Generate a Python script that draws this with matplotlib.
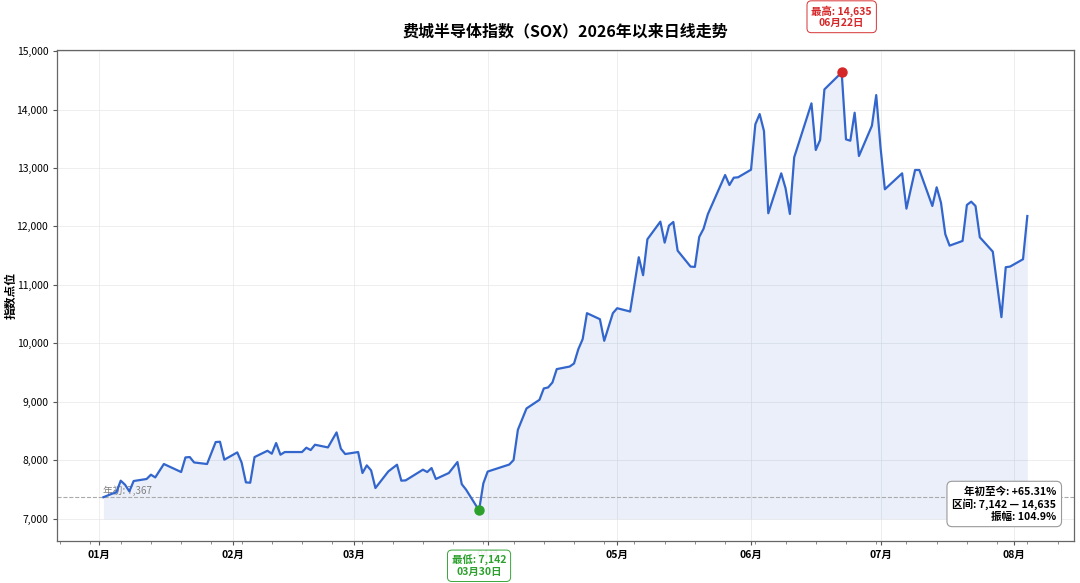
import matplotlib
matplotlib.use("Agg")
import matplotlib.pyplot as plt
import matplotlib.dates as mdates
import matplotlib.ticker as mticker
import pandas as pd

# ── 数据（读图估计的转折点）─────────────────────────────────
DATES = [
    "2026-01-02", "2026-01-04", "2026-01-05", "2026-01-06", "2026-01-07",
    "2026-01-08", "2026-01-09", "2026-01-12", "2026-01-13", "2026-01-14",
    "2026-01-16", "2026-01-20", "2026-01-21", "2026-01-22", "2026-01-23",
    "2026-01-26", "2026-01-28", "2026-01-29", "2026-01-30", "2026-02-02",
    "2026-02-03", "2026-02-04", "2026-02-05", "2026-02-06", "2026-02-09",
    "2026-02-10", "2026-02-11", "2026-02-12", "2026-02-13", "2026-02-17",
    "2026-02-18", "2026-02-19", "2026-02-20", "2026-02-23", "2026-02-25",
    "2026-02-26", "2026-02-27", "2026-03-02", "2026-03-03", "2026-03-04",
    "2026-03-05", "2026-03-06", "2026-03-09", "2026-03-11", "2026-03-12",
    "2026-03-13", "2026-03-17", "2026-03-18", "2026-03-19", "2026-03-20",
    "2026-03-23", "2026-03-25", "2026-03-26", "2026-03-27", "2026-03-30",
    "2026-03-31", "2026-04-01", "2026-04-06", "2026-04-07", "2026-04-08",
    "2026-04-10", "2026-04-13", "2026-04-14", "2026-04-15", "2026-04-16",
    "2026-04-17", "2026-04-20", "2026-04-21", "2026-04-22", "2026-04-23",
    "2026-04-24", "2026-04-27", "2026-04-28", "2026-04-30", "2026-05-01",
    "2026-05-04", "2026-05-06", "2026-05-07", "2026-05-08", "2026-05-11",
    "2026-05-12", "2026-05-13", "2026-05-14", "2026-05-15", "2026-05-18",
    "2026-05-19", "2026-05-20", "2026-05-21", "2026-05-22", "2026-05-26",
    "2026-05-27", "2026-05-28", "2026-05-29", "2026-06-01", "2026-06-02",
    "2026-06-03", "2026-06-04", "2026-06-05", "2026-06-08", "2026-06-09",
    "2026-06-10", "2026-06-11", "2026-06-15", "2026-06-16", "2026-06-17",
    "2026-06-18", "2026-06-21", "2026-06-22", "2026-06-23", "2026-06-24",
    "2026-06-25", "2026-06-26", "2026-06-29", "2026-06-30", "2026-07-01",
    "2026-07-02", "2026-07-06", "2026-07-07", "2026-07-09", "2026-07-10",
    "2026-07-13", "2026-07-14", "2026-07-15", "2026-07-16", "2026-07-17",
    "2026-07-20", "2026-07-21", "2026-07-22", "2026-07-23", "2026-07-24",
    "2026-07-27", "2026-07-29", "2026-07-30", "2026-07-31", "2026-08-03",
    "2026-08-04",
]
VALUES = [
    7367, 7427, 7450, 7650, 7581,
    7467, 7644, 7679, 7752, 7706,
    7935, 7798, 8048, 8054, 7962,
    7935, 8311, 8316, 8009, 8134,
    7962, 7621, 7615, 8054, 8162,
    8111, 8294, 8094, 8140, 8140,
    8214, 8174, 8265, 8219, 8476,
    8197, 8106, 8140, 7781, 7912,
    7826, 7524, 7809, 7923, 7650,
    7655, 7838, 7798, 7866, 7679,
    7781, 7969, 7590, 7496, 7142,
    7604, 7806, 7926, 8003, 8521,
    8886, 9034, 9228, 9245, 9330,
    9559, 9603, 9655, 9900, 10071,
    10516, 10413, 10043, 10516, 10601,
    10544, 11473, 11166, 11781, 12082,
    11723, 12014, 12077, 11586, 11313,
    11308, 11820, 11960, 12210, 12880,
    12709, 12834, 12841, 12971, 13747,
    13923, 13632, 12226, 12909, 12653,
    12214, 13183, 14106, 13308, 13479,
    14345, 14561, 14635, 13490, 13467,
    13946, 13205, 13723, 14248, 13350,
    12636, 12909, 12305, 12966, 12966,
    12350, 12670, 12407, 11867, 11672,
    11752, 12368, 12424, 12350, 11815,
    11569, 10448, 11303, 11313, 11439,
    12178.5,
]

TITLE = "费城半导体指数（SOX）2026年以来日线走势"
YLABEL = "指数点位"


def main():
    plt.rcParams["font.family"] = ["Noto Sans CJK SC", "DejaVu Sans"]
    plt.rcParams["axes.unicode_minus"] = False

    LINE_C = "#3366cc"
    HIGH_C = "#d62728"
    LOW_C = "#2ca02c"

    dates = pd.to_datetime(DATES)
    s = pd.Series(VALUES, index=dates, dtype=float)

    base = s.iloc[0]
    last = s.iloc[-1]
    hi_d, hi_v = s.idxmax(), s.max()
    lo_d, lo_v = s.idxmin(), s.min()
    ytd = (last / base - 1) * 100
    amp = (hi_v / lo_v - 1) * 100

    fig = plt.figure(figsize=(10.8, 5.83), dpi=100)
    ax = fig.add_subplot(111)
    fig.subplots_adjust(left=0.053, right=0.994, bottom=0.072, top=0.914)

    ax.plot(s.index, s.values, color=LINE_C, linewidth=1.6, zorder=3)
    ax.fill_between(s.index, s.values, lo_v * 0.98, color=LINE_C,
                    alpha=0.1, linewidth=0, zorder=2)

    # 年初基准线
    ax.axhline(base, color="#aaaaaa", linewidth=0.8, linestyle="--", zorder=2)
    ax.text(s.index[0], base + 15, f"年初: {base:,.0f}", fontsize=7,
            color="#808080", ha="left", va="bottom", zorder=2)

    # 最高 / 最低
    ax.plot([hi_d], [hi_v], "o", color=HIGH_C, markersize=6.5, zorder=5)
    ax.plot([lo_d], [lo_v], "o", color=LOW_C, markersize=6.5, zorder=5)
    ax.annotate(f"最高: {hi_v:,.0f}\n{hi_d:%m月%d日}", xy=(hi_d, hi_v),
                xytext=(0, 40), textcoords="offset points",
                ha="center", va="center", fontsize=7.5, fontweight="bold",
                color=HIGH_C, annotation_clip=False, linespacing=1.15,
                bbox=dict(boxstyle="round,pad=0.42", fc="white",
                          ec=HIGH_C, lw=0.7, alpha=0.95), zorder=6)
    ax.annotate(f"最低: {lo_v:,.0f}\n{lo_d:%m月%d日}", xy=(lo_d, lo_v),
                xytext=(0, -40), textcoords="offset points",
                ha="center", va="center", fontsize=7.5, fontweight="bold",
                color=LOW_C, annotation_clip=False, linespacing=1.15,
                bbox=dict(boxstyle="round,pad=0.42", fc="white",
                          ec=LOW_C, lw=0.7, alpha=0.95), zorder=6)

    # 统计信息框
    stats = (f"年初至今: {ytd:+.2f}%\n"
             f"区间: {lo_v:,.0f} — {hi_v:,.0f}\n"
             f"振幅: {amp:.1f}%")
    ax.text(0.983, 0.04, stats, transform=ax.transAxes, ha="right",
            va="bottom", fontsize=7.6, fontweight="bold", linespacing=1.15,
            bbox=dict(boxstyle="round,pad=0.5", fc="white", ec="#999999",
                      lw=0.8), zorder=6)

    # 坐标轴
    ax.xaxis.set_major_locator(mdates.MonthLocator())
    ax.xaxis.set_major_formatter(mdates.DateFormatter("%m月"))
    ax.xaxis.set_minor_locator(mdates.WeekdayLocator(byweekday=1))
    ax.yaxis.set_major_locator(mticker.MultipleLocator(1000))
    ax.yaxis.set_major_formatter(mticker.StrMethodFormatter("{x:,.0f}"))
    ax.tick_params(axis="x", labelsize=7.5, length=3, color="#555555")
    ax.tick_params(axis="x", which="minor", length=2, color="#777777")
    ax.tick_params(axis="y", labelsize=7.5, length=3, color="#555555")
    for lbl in ax.get_xticklabels():
        lbl.set_fontweight("bold")

    ax.grid(True, which="major", color="#e6e6e6", linewidth=0.6, alpha=0.8)
    for sp in ax.spines.values():
        sp.set_color("#666666")
        sp.set_linewidth(0.9)

    ax.set_ylabel(YLABEL, fontsize=8.5, fontweight="bold")
    ax.yaxis.set_label_coords(-0.039, 0.5)
    ax.set_title(TITLE, fontsize=11.5, fontweight="bold", pad=10)

    fig.savefig("out.png", dpi=100)


if __name__ == "__main__":
    main()
